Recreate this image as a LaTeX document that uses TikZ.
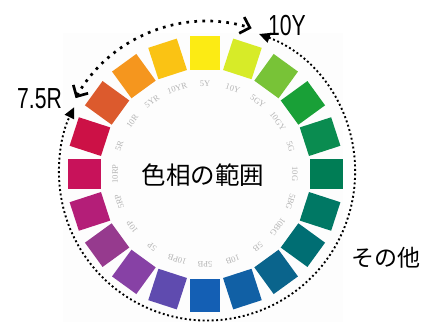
\documentclass[tikz,border=0pt]{standalone}
\usepackage{fontspec}
\setmainfont{Liberation Sans}
\newfontfamily\jpfont{Noto Sans CJK JP}
\newfontfamily\narrowfont[FakeStretch=0.73]{Liberation Sans}
\newfontfamily\labelfont{Liberation Serif}
\usetikzlibrary{arrows.meta,calc}
\definecolor{photobg}{HTML}{FDFDFD}
\definecolor{lblgray}{HTML}{B4B4B4}
\begin{document}
\begin{tikzpicture}[x=1pt,y=1pt,
  huebox/.style={inner sep=0pt,minimum width=30pt,minimum height=33pt,draw=none},
  huelbl/.style={inner sep=0pt,text=lblgray,font=\labelfont\fontsize{8.5}{8.5}\selectfont},
  bigtxt/.style={inner sep=0pt,anchor=base,font=\narrowfont\fontsize{29}{29}\selectfont},
  jptxt/.style={inner sep=0pt,anchor=base,font=\jpfont\fontsize{#1}{#1}\selectfont},
  rangearc/.style={line width=2.7pt,dash pattern=on 2.7pt off 5.3pt,
     {Straight Barb[angle=90:12pt,line width=2.7pt]}-{Straight Barb[angle=90:12pt,line width=2.7pt]}},
  otherarc/.style={line width=1.9pt,dash pattern=on 1.9pt off 2.6pt,
     {Triangle[length=11pt,width=10pt]}-{Triangle[length=11pt,width=10pt]}}
]
\useasboundingbox (0,0) rectangle (427,322);
\fill[white] (0,0) rectangle (427,322);
\fill[photobg] (63,0) rectangle (343,289);
\coordinate (W) at (205,148);
\coordinate (C) at (207,149.5);
\foreach \a/\n/\c [count=\i] in {
  90/5Y/FCEB14, 72/10Y/D7EB28, 54/5GY/78C337, 36/10GY/19A037,
  18/5G/0A8C50, 0/10G/007D55, -18/5BG/007864, -36/10BG/006E73,
  -54/5B/0A648C, -72/10B/1160A5, -90/5PB/145FB4, -108/10PB/5F4BAF,
  -126/5P/8741A5, -144/10P/963A8E, -162/5RP/B41E78, 180/10RP/C8125A,
  162/5R/CC1146, 144/10R/DC5A2D, 126/5YR/F5961E, 108/10YR/FAC314} {
  \definecolor{cur}{HTML}{\c}
  \node[huebox,fill=cur,rotate=\a-90] (sq\i) at ($(W)+(\a:121)$) {};
  \node[huelbl,rotate=\a-90] (lb\i) at ($(W)+(\a:90)$) {\n};
}
\draw[rangearc] ($(C)+(150.5:151)$) arc[start angle=150.5,end angle=72.8,radius=151];
\draw[otherarc] ($(C)+(69.4:148)$) arc[start angle=69.4,end angle=-206.2,radius=148];
\node[bigtxt] (t75) at (39.5,214) {7.5R};
\node[bigtxt] (t10) at (287,287) {10Y};
\node[jptxt=24.5] (title) at (203,137.7) {色相の範囲};
\node[jptxt=23] (other) at (385.5,55.8) {その他};
\end{tikzpicture}
\end{document}
